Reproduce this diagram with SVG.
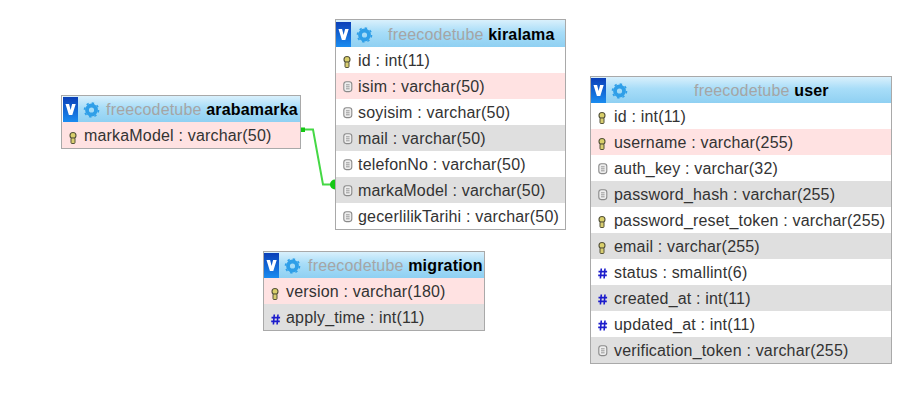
<svg xmlns="http://www.w3.org/2000/svg" width="922" height="413" viewBox="0 0 922 413">
<style>
text{font-family:"Liberation Sans",Arial,sans-serif;font-size:16px;fill:#333;letter-spacing:.18px}
.db{fill:#a5a5a5}
.tn{fill:#000;font-weight:bold}
.box{fill:#fff;stroke:#a9a9a9;stroke-width:1}
.pink{fill:#ffe2e2}
.gray{fill:#dfdfdf}
.conn{fill:none;stroke:#45d845;stroke-width:2}
</style>
<defs>
<linearGradient id="hd" x1="0" y1="0" x2="0" y2="1"><stop offset="0" stop-color="#d9f0fc"/><stop offset=".45" stop-color="#a8ddf8"/><stop offset="1" stop-color="#8fd0f2"/></linearGradient>
<linearGradient id="vb" x1="0" y1="0" x2="0" y2="1"><stop offset="0" stop-color="#0a3fb8"/><stop offset="1" stop-color="#1a8cf0"/></linearGradient>
<g id="head">
<rect x="0" y="1" width="15" height="25" fill="url(#vb)"/>
<path d="M2.500 8h3.600l1.500 6 1.500-6h3.600l-3.400 11h-3.400z" fill="#fff"/>
<circle cx="28.500" cy="14" r="4.500" fill="none" stroke="#2f9fe8" stroke-width="3.800"/>
<circle cx="28.500" cy="14" r="7" fill="none" stroke="#2f9fe8" stroke-width="1.600" stroke-dasharray="2.400 3.100"/>
</g>
<g id="key">
<circle cx="4" cy="3.500" r="3" fill="#d9cf6a" stroke="#55533a" stroke-width="1.100"/>
<rect x="2" y="6" width="4" height="5.500" rx="1" fill="#d8cd70" stroke="#55533a" stroke-width="1"/>
</g>
<g id="col">
<rect x=".8" y=".8" width="8" height="9.800" rx="2.500" fill="#eee" stroke="#8a8a8a" stroke-width="1.100"/>
<path d="M3 3.800h3.600M3 5.800h3.600M3 7.800h3.600" stroke="#8f8f8f" stroke-width=".9"/>
</g>
<g id="num">
<path d="M3.300 .5 2.400 10.500M7 .5 6.100 10.500M.5 3.600h8.600M.2 7.400h8.600" stroke="#1c1ccc" stroke-width="1.600" fill="none"/>
</g>
</defs>
<g id="connectors">
<path class="conn" d="M302 129.500H313L323 184.500H332"/>
<rect x="301" y="127.500" width="4" height="4.500" fill="#14c814"/>
<path d="M335 179.500A5 5 0 0 0 335 189.500Z" fill="#14c814"/>
</g>
<g id="arabamarka">
<rect class="box" x="61.500" y="95.500" width="239" height="53"/>
<rect x="63" y="96" width="237" height="26" fill="url(#hd)"/>
<use href="#head" x="63" y="96"/>
<text x="106" y="115"><tspan class="db">freecodetube </tspan><tspan class="tn">arabamarka</tspan></text>
<rect class="pink" x="62" y="122" width="238" height="26"/>
<use href="#key" x="69" y="132"/>
<text x="84" y="141">markaModel : varchar(50)</text>
</g>
<g id="kiralama">
<rect class="box" x="335.500" y="19.500" width="230" height="210"/>
<rect x="336" y="20" width="229" height="27" fill="url(#hd)"/>
<use href="#head" x="336" y="21"/>
<text x="388" y="40"><tspan class="db">freecodetube </tspan><tspan class="tn">kiralama</tspan></text>
<rect class="pink" x="336" y="73" width="229" height="26"/>
<rect class="gray" x="336" y="125" width="229" height="26"/>
<rect class="gray" x="336" y="177" width="229" height="26"/>
<use href="#key" x="343" y="56"/><text x="358" y="66">id : int(11)</text>
<use href="#col" x="343" y="81"/><text x="358" y="92">isim : varchar(50)</text>
<use href="#col" x="343" y="107"/><text x="358" y="118">soyisim : varchar(50)</text>
<use href="#col" x="343" y="133"/><text x="358" y="144">mail : varchar(50)</text>
<use href="#col" x="343" y="159"/><text x="358" y="170">telefonNo : varchar(50)</text>
<use href="#col" x="343" y="185"/><text x="358" y="196">markaModel : varchar(50)</text>
<use href="#col" x="343" y="211"/><text x="358" y="222">gecerlilikTarihi : varchar(50)</text>
</g>
<g id="migration">
<rect class="box" x="263.500" y="251.500" width="221" height="79"/>
<rect x="264" y="252" width="220" height="26" fill="url(#hd)"/>
<use href="#head" x="264" y="252"/>
<text x="308" y="271"><tspan class="db">freecodetube </tspan><tspan class="tn">migration</tspan></text>
<rect class="pink" x="264" y="278" width="220" height="26"/>
<rect class="gray" x="264" y="304" width="220" height="26"/>
<use href="#key" x="271" y="288"/><text x="286" y="297">version : varchar(180)</text>
<use href="#num" x="271" y="314"/><text x="286" y="323">apply_time : int(11)</text>
</g>
<g id="user">
<rect class="box" x="590.500" y="76.500" width="301" height="287"/>
<rect x="591" y="77" width="300" height="26" fill="url(#hd)"/>
<use href="#head" x="591" y="77"/>
<text x="694" y="96"><tspan class="db">freecodetube </tspan><tspan class="tn">user</tspan></text>
<rect class="pink" x="591" y="129" width="300" height="26"/>
<rect class="gray" x="591" y="181" width="300" height="26"/>
<rect class="gray" x="591" y="233" width="300" height="26"/>
<rect class="gray" x="591" y="285" width="300" height="26"/>
<rect class="gray" x="591" y="337" width="300" height="26"/>
<use href="#key" x="598" y="112"/><text x="614" y="122">id : int(11)</text>
<use href="#key" x="598" y="138"/><text x="614" y="148">username : varchar(255)</text>
<use href="#col" x="598" y="163"/><text x="614" y="174">auth_key : varchar(32)</text>
<use href="#col" x="598" y="189"/><text x="614" y="200">password_hash : varchar(255)</text>
<use href="#key" x="598" y="216"/><text x="614" y="226">password_reset_token : varchar(255)</text>
<use href="#key" x="598" y="242"/><text x="614" y="252">email : varchar(255)</text>
<use href="#num" x="598" y="268"/><text x="614" y="278">status : smallint(6)</text>
<use href="#num" x="598" y="294"/><text x="614" y="304">created_at : int(11)</text>
<use href="#num" x="598" y="320"/><text x="614" y="330">updated_at : int(11)</text>
<use href="#col" x="598" y="345"/><text x="614" y="356">verification_token : varchar(255)</text>
</g>
</svg>
